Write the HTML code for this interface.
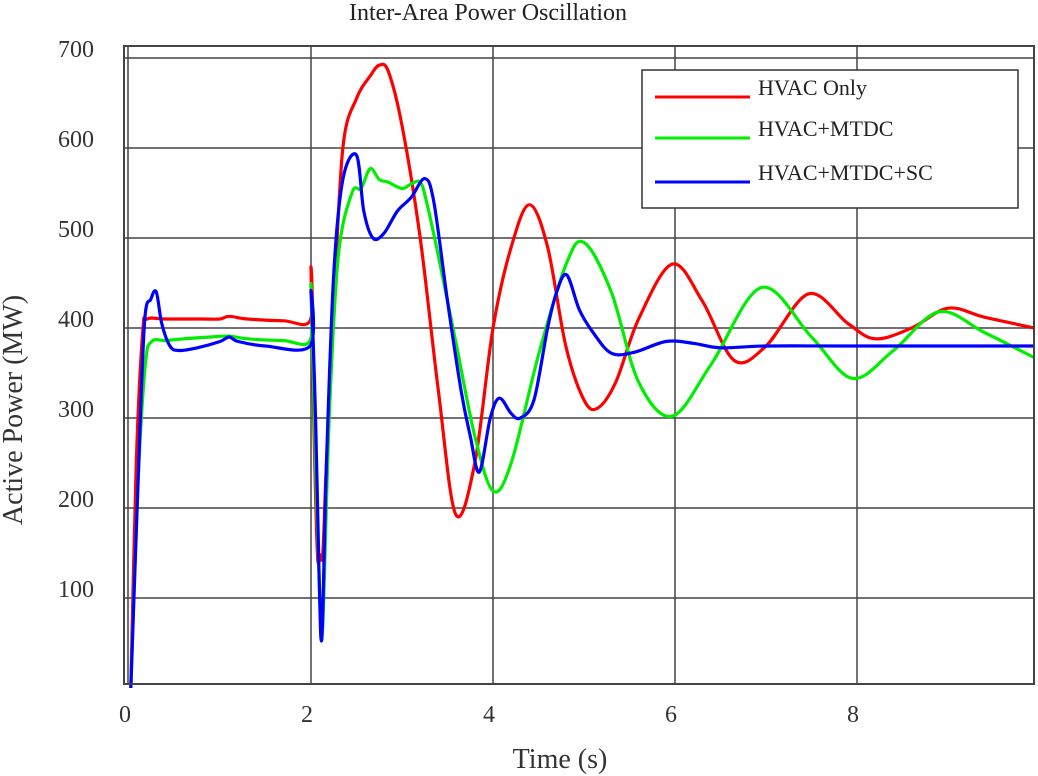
<!DOCTYPE html>
<html><head><meta charset="utf-8"><style>
body{margin:0;background:#fff;}
svg{display:block;font-family:"Liberation Serif",serif;}
</style></head><body>
<svg id="chart" width="1038" height="776" viewBox="0 0 1038 776">
<text x="488" y="20" text-anchor="middle" font-size="24" fill="#222">Inter-Area Power Oscillation</text>
<g id="grid"></g>
<g id="series"></g>
<rect x="124" y="46" width="910" height="638" fill="none" stroke="#444" stroke-width="2"/>
<line x1="128" y1="46" x2="128" y2="684" stroke="#444" stroke-width="1.5"/>
<g id="ticks"></g>
<text x="560" y="768" text-anchor="middle" font-size="28" fill="#333">Time (s)</text>
<text transform="translate(22,410) rotate(-90)" text-anchor="middle" font-size="28" fill="#333">Active Power (MW)</text>
<g>
<rect x="642" y="70" width="376" height="138" fill="#fff" stroke="#333" stroke-width="1.5"/>
<line x1="655" y1="97" x2="750" y2="97" stroke="#ff0000" stroke-width="3"/>
<text x="758" y="90" font-size="22" fill="#222" dominant-baseline="middle">HVAC Only</text>
<line x1="655" y1="138" x2="750" y2="138" stroke="#00ee00" stroke-width="3"/>
<text x="758" y="131" font-size="22" fill="#222" dominant-baseline="middle">HVAC+MTDC</text>
<line x1="655" y1="182" x2="750" y2="182" stroke="#0000ff" stroke-width="3"/>
<text x="758" y="175" font-size="22" fill="#222" dominant-baseline="middle">HVAC+MTDC+SC</text>
</g>
</svg>
<script>
const xTicks=[0,2,4,6,8];
const yTicks=[100,200,300,400,500,600,700];
const redT=[0.02,0.08,0.15,0.2,0.4,0.8,1.0,1.1,1.3,1.7,1.99,2.0,2.03,2.07,2.1,2.13,2.17,2.25,2.35,2.5,2.65,2.75,2.85,3.0,3.2,3.4,3.59,3.8,4.0,4.2,4.4,4.6,4.8,5.0,5.15,5.35,5.6,5.97,6.3,6.65,7.0,7.47,7.9,8.2,8.6,9.0,9.4,9.95];
const redP=[0,250,395,410,410,410,410,413,410,408,408,465,300,150,148,150,250,420,600,655,680,692,685,625,500,330,193,250,400,490,537,490,380,320,311,340,410,471,430,364,380,438,405,388,400,422,412,400];
const greenT=[0.02,0.1,0.18,0.25,0.4,0.6,0.9,1.1,1.3,1.7,1.99,2.0,2.05,2.1,2.13,2.2,2.3,2.45,2.55,2.65,2.75,2.85,3.0,3.1,3.2,3.27,3.4,3.6,3.8,4.0,4.2,4.5,4.8,5.0,5.3,5.6,5.97,6.4,6.95,7.5,7.95,8.4,8.9,9.4,9.95];
const greenP=[0,230,360,385,386,388,390,391,388,386,386,445,250,90,70,300,480,550,555,577,565,562,555,560,562,540,480,380,280,219,250,370,470,495,440,340,302,360,445,390,344,375,418,395,367];
const blueT=[0.02,0.1,0.17,0.24,0.3,0.36,0.45,0.55,0.75,1.0,1.1,1.2,1.5,1.99,2.0,2.05,2.09,2.12,2.17,2.25,2.35,2.5,2.58,2.68,2.8,2.95,3.1,3.25,3.35,3.5,3.65,3.75,3.85,3.97,4.07,4.2,4.3,4.45,4.6,4.7,4.81,4.95,5.1,5.3,5.55,5.9,6.2,6.5,7.0,8.0,9.95];
const blueP=[0,230,405,432,440,405,380,375,378,385,390,385,380,380,440,300,120,58,250,460,565,592,530,500,505,530,545,566,540,430,330,280,240,300,322,305,300,320,400,440,459,420,395,372,373,385,383,378,380,380,380];
const X0=129,XS=91,Y0=688,YS=0.9;
const xs=t=>X0+t*XS, ys=p=>Y0-p*YS;
const NS="http://www.w3.org/2000/svg";
const grid=document.getElementById('grid'),ticks=document.getElementById('ticks'),ser=document.getElementById('series');
xTicks.forEach(v=>{
 if(v>0){const l=document.createElementNS(NS,'line');
 
 
 l.setAttribute('x1',xs(v));l.setAttribute('x2',xs(v));l.setAttribute('y1',46);l.setAttribute('y2',684);
 l.setAttribute('stroke','#444');l.setAttribute('stroke-width','1.5');grid.appendChild(l);}
 const t=document.createElementNS(NS,'text');
 
 
 t.setAttribute('x',xs(v)-4);t.setAttribute('y',722);t.setAttribute('text-anchor','middle');t.setAttribute('font-size','24');t.setAttribute('fill','#333');
 t.textContent=v;ticks.appendChild(t);
});
yTicks.forEach(v=>{
 const l=document.createElementNS(NS,'line');
 
 
 l.setAttribute('x1',124);l.setAttribute('x2',1034);l.setAttribute('y1',ys(v));l.setAttribute('y2',ys(v));
 l.setAttribute('stroke','#444');l.setAttribute('stroke-width','1.5');grid.appendChild(l);
 const t=document.createElementNS(NS,'text');
 
 
 t.setAttribute('x',94);t.setAttribute('y',ys(v)-1);t.setAttribute('text-anchor','end');t.setAttribute('font-size','24');t.setAttribute('fill','#333');
 t.textContent=v;ticks.appendChild(t);
});
function path(T,P){
 const pts=T.map((t,i)=>[xs(t),ys(P[i])]);
 let d='M'+pts[0][0]+','+pts[0][1];
 for(let i=0;i<pts.length-1;i++){
  const p0=pts[Math.max(0,i-1)],p1=pts[i],p2=pts[i+1],p3=pts[Math.min(pts.length-1,i+2)];
  const c1=[p1[0]+(p2[0]-p0[0])/6,p1[1]+(p2[1]-p0[1])/6];
  const c2=[p2[0]-(p3[0]-p1[0])/6,p2[1]-(p3[1]-p1[1])/6];
  d+=' C'+c1.join(',')+' '+c2.join(',')+' '+p2.join(',');
 }
 return d;
}
[[redT,redP,'#ff0000','series-hvac-only'],[greenT,greenP,'#00ee00','series-hvac-mtdc'],[blueT,blueP,'#0000ff','series-hvac-mtdc-sc']].forEach(s=>{
 const p=document.createElementNS(NS,'path');
 
 
 p.setAttribute('d',path(s[0],s[1]));p.setAttribute('fill','none');p.setAttribute('stroke',s[2]);p.setAttribute('stroke-width','3.2');p.setAttribute('stroke-linejoin','round');
 ser.appendChild(p);
});
</script>
</body></html>
